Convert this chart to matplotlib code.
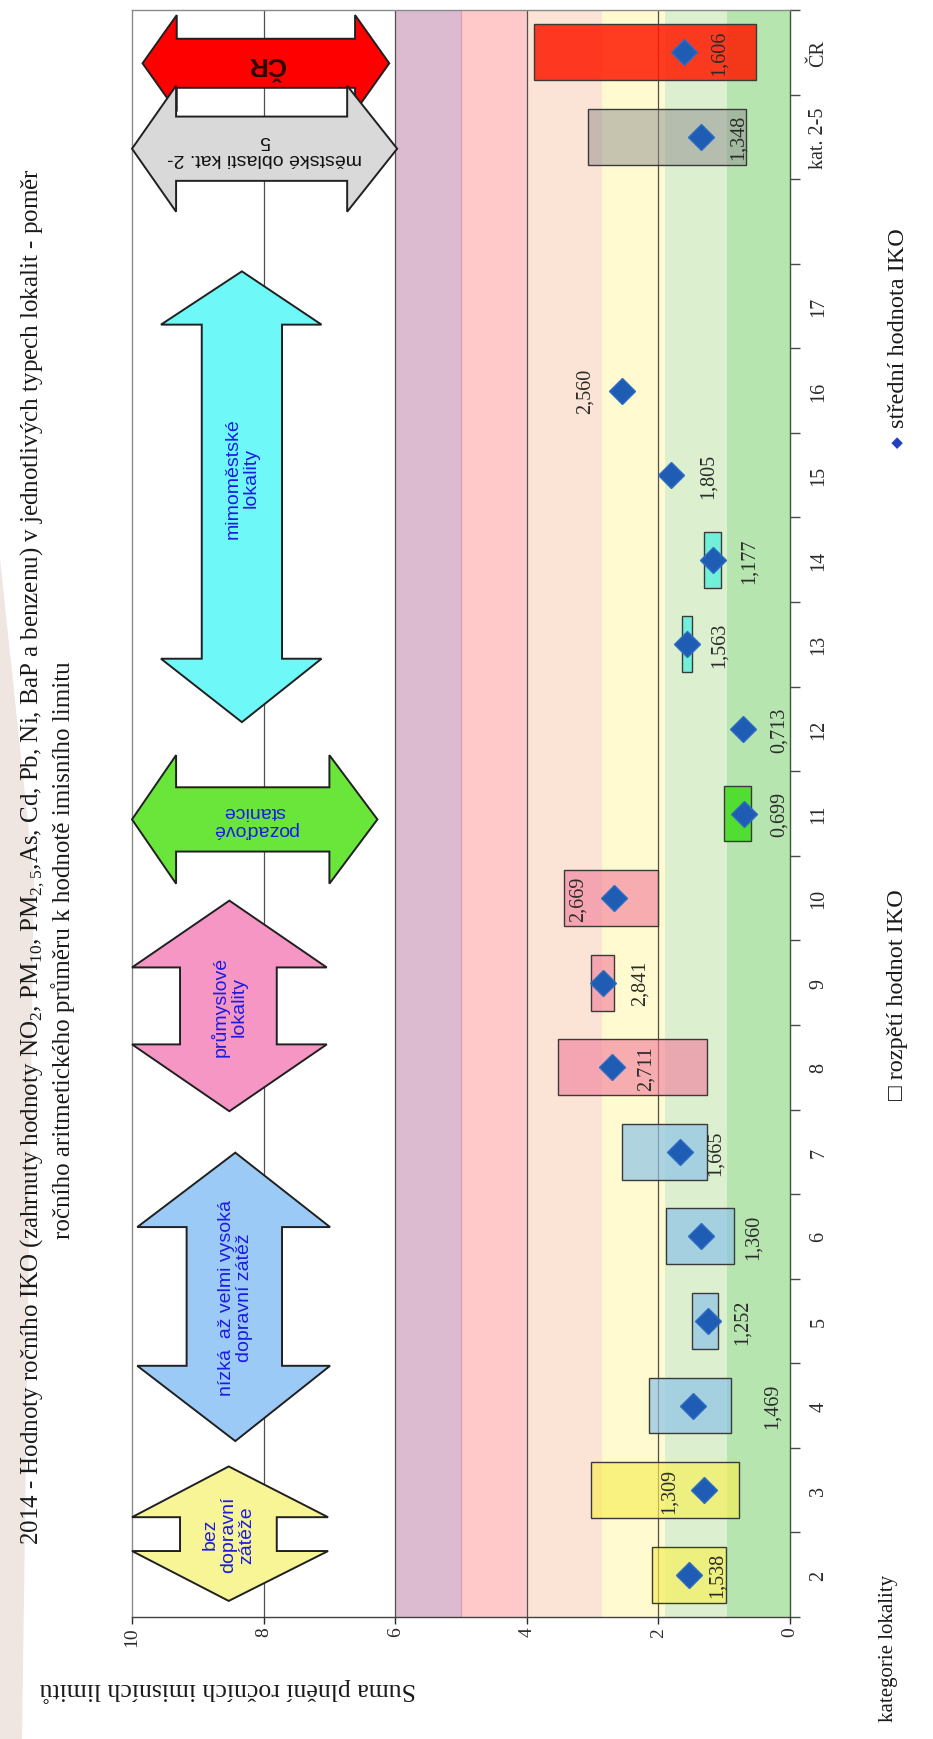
import matplotlib
matplotlib.use("Agg")
import matplotlib.pyplot as plt
from matplotlib.patches import Polygon

plt.rcParams['font.family'] = ['Liberation Serif', 'DejaVu Serif']
plt.rcParams['mathtext.fontset'] = 'custom'
plt.rcParams['mathtext.rm'] = 'Liberation Serif'

# === Data ===
categories = ["2", "3", "4", "5", "6", "7", "8", "9", "10", "11", "12", "13",
              "14", "15", "16", "17", "", "kat. 2-5", "ČR"]

range_cats = ["2", "3", "4", "5", "6", "7", "8", "9", "10", "11", "13", "14", "kat. 2-5", "ČR"]
range_low = [0.98, 0.78, 0.90, 1.10, 0.85, 1.26, 1.26, 2.68, 2.01, 0.59, 1.49, 1.05, 0.67, 0.52]
range_high = [2.09, 3.03, 2.15, 1.49, 1.88, 2.56, 3.53, 3.02, 3.43, 1.00, 1.64, 1.30, 3.07, 3.89]

mean_cats = ["2", "3", "4", "5", "6", "7", "8", "9", "10", "11", "12", "13",
             "14", "15", "16", "kat. 2-5", "ČR"]
mean_values = [1.538, 1.309, 1.469, 1.252, 1.360, 1.665, 2.711, 2.841, 2.669, 0.699,
               0.713, 1.563, 1.177, 1.805, 2.560, 1.348, 1.606]

# === Styles / layout ===
range_colors = ["#f7ef55", "#f7ef55", "#8ec3e6", "#8ec3e6", "#8ec3e6", "#8ec3e6",
                "#f27a9a", "#f27a9a", "#f27a9a", "#3fdc1c", "#4ff0dc", "#4ff0dc",
                "#8f8f8f", "#ff1a00"]
range_alpha = [0.65, 0.65, 0.7, 0.7, 0.7, 0.7, 0.6, 0.6, 0.6, 0.85, 0.75, 0.75, 0.5, 0.85]
label_x = [1.10, 1.84, 0.27, 0.72, 0.56, 1.13, 2.18, 2.28, 3.22, 0.16, 0.16, 1.07,
           0.62, 1.24, 3.12, 0.78, 1.07]

bands = [(0, 0.95, "#b6e5b0"), (0.95, 1.9, "#dcefcf"), (1.9, 2.85, "#fffad0"),
         (2.85, 4, "#fbe3d5"), (4, 5, "#ffc9c9"), (5, 6, "#dcbad0")]

W, H = 933, 1740
fig = plt.figure(figsize=(W / 100, H / 100), dpi=100)

def fx(x):
    return x / W

def fy(y):
    return 1 - y / H

# page shadow on the left edge
fig.patches.append(Polygon([(fx(0), fy(560)), (fx(34), fy(880)), (fx(22), fy(1740)),
                            (fx(0), fy(1740))], closed=True, transform=fig.transFigure,
                           facecolor="#efe5e1", edgecolor="none", zorder=0))

ax = fig.add_axes([fx(132), fy(1618), fx(790) - fx(132), fy(11) - fy(1618)])
ax.set_xlim(10, 0)
ax.set_ylim(-0.5, len(categories) - 0.5)

for lo, hi, col in bands:
    ax.axvspan(lo, hi, color=col, lw=0, zorder=0)
for v in [2, 4, 6, 8]:
    ax.axvline(v, color="#505050", lw=0.9, zorder=1)
ax.axvline(5, color="#e39aae", lw=0.9, zorder=1)

idx = {c: i for i, c in enumerate(categories)}

# range boxes
for c, lo, hi, col, al in zip(range_cats, range_low, range_high, range_colors, range_alpha):
    ax.barh(idx[c], hi - lo, left=lo, height=0.66, color=col, alpha=al,
            edgecolor="none", zorder=2)
    ax.barh(idx[c], hi - lo, left=lo, height=0.66, fill=False,
            edgecolor="#3a3a3a", lw=1.0, zorder=2)

# means
ax.plot(mean_values, [idx[c] for c in mean_cats], ls="none", marker="D",
        markersize=13.5, color="#1f5cb4", markeredgecolor="#2f6cc4", zorder=3)
for c, v, lx in zip(mean_cats, mean_values, label_x):
    ax.text(lx, idx[c], f"{v:.3f}".replace(".", ","), rotation=90, ha="center",
            va="center", fontsize=14.5, color="#2b2b2b", zorder=4)

# === Arrows ===
def v_arrow(tip, head, shaft, cats, color, text, rot, fs=14, tcol="#1c1ce0",
            weight="normal", text_dy=0.0):
    lt, lb, hb, ht = cats
    pts = [(tip, lt), (head[1], lb), (shaft[1], lb), (shaft[1], hb), (head[1], hb),
           (tip, ht), (head[0], hb), (shaft[0], hb), (shaft[0], lb), (head[0], lb)]
    ax.add_patch(Polygon(pts, closed=True, facecolor=color, edgecolor="#202020",
                         lw=1.4, zorder=5, clip_on=False))
    ax.text(tip, (lt + ht) / 2 + text_dy, text, rotation=rot, ha="center", va="center",
            fontsize=fs, color=tcol, family=["Liberation Sans", "DejaVu Sans"],
            linespacing=1.1, weight=weight, zorder=6)

def h_arrow(cy, head_h, shaft_h, tips, bases, color, text, rot, fs=14, tcol="#1c1ce0",
            weight="normal"):
    t1, t2 = tips
    b1, b2 = bases
    pts = [(t1, cy), (b1, cy + head_h), (b1, cy + shaft_h), (b2, cy + shaft_h),
           (b2, cy + head_h), (t2, cy), (b2, cy - head_h), (b2, cy - shaft_h),
           (b1, cy - shaft_h), (b1, cy - head_h)]
    ax.add_patch(Polygon(pts, closed=True, facecolor=color, edgecolor="#202020",
                         lw=1.4, zorder=5, clip_on=False))
    ax.text((t1 + t2) / 2, cy, text, rotation=rot, ha="center", va="center",
            fontsize=fs, color=tcol, family=["Liberation Sans", "DejaVu Sans"],
            linespacing=1.1, weight=weight, zorder=6)

v_arrow(8.53, (10.0, 7.02), (9.27, 7.80), (-0.31, 0.28, 0.68, 1.28), "#f8f597",
        "bez\ndopravní\nzátěže", 90)
v_arrow(8.43, (9.92, 6.99), (9.17, 7.72), (1.58, 2.47, 4.11, 4.99), "#9ccaf7",
        "nízká  až velmi vysoká\ndopravní zátěž", 90)
v_arrow(8.52, (10.0, 7.04), (9.27, 7.80), (5.48, 6.27, 7.18, 7.97), "#f596c4",
        "průmyslové\nlokality", 90)
v_arrow(8.33, (9.56, 7.12), (8.94, 7.72), (10.08, 10.83, 14.78, 15.41), "#6ef8f8",
        "mimoměstské\nlokality", 90, text_dy=0.23)
h_arrow(8.93, 0.76, 0.38, (10.0, 6.27), (9.33, 7.00), "#6ae53a",
        "pozaďové\nstanice", 180)
h_arrow(17.87, 0.57, 0.29, (9.84, 6.09), (9.32, 6.61), "#ff0000",
        "ČR", 180, fs=19, tcol="#2a0505", weight="bold")
h_arrow(16.86, 0.745, 0.38, (10.0, 5.97), (9.33, 6.73), "#d9d9d9",
        "městské oblasti kat. 2-\n5", 180, tcol="#111111")

# === Axes styling ===
ax.set_xticks([0, 2, 4, 6, 8, 10])
ax.set_xticklabels(["0", "2", "4", "6", "8", "10"], rotation=90, fontsize=14,
                   color="#2b2b2b")
ax.tick_params(axis="x", direction="out", length=5, width=1, pad=2, colors="#2b2b2b")
ax.yaxis.tick_right()
ax.set_yticks(range(len(categories)))
ax.set_yticklabels(categories, rotation=90, va="center", fontsize=14.5, color="#2b2b2b")
ax.set_yticks([i + 0.5 for i in range(-1, len(categories))], minor=True)
ax.tick_params(axis="y", which="major", length=0, pad=14)
ax.tick_params(axis="y", which="minor", direction="out", length=7, width=1,
               color="#405040")
for s in ["top", "left"]:
    ax.spines[s].set_color("#8a8a8a")
ax.spines["right"].set_color("#3d553d")
ax.spines["bottom"].set_color("#404040")
for s in ax.spines.values():
    s.set_linewidth(1.0)

# === Titles and legend ===
fig.text(fx(33), fy(857),
         r"2014 - Hodnoty ročního IKO (zahrnuty hodnoty NO$_\mathregular{2}$, "
         r"PM$_\mathregular{10}$, PM$_\mathregular{2,5}$,As, Cd, Pb, Ni, BaP a benzenu) "
         r"v jednotlivých typech lokalit - poměr",
         rotation=90, ha="center", va="center", fontsize=18, color="#1a1a1a")
fig.text(fx(63), fy(950), "ročního aritmetického průměru k hodnotě imisního limitu",
         rotation=90, ha="center", va="center", fontsize=18, color="#1a1a1a")
fig.text(fx(228), fy(1690), "Suma plnění ročních imisních limitů", rotation=180,
         ha="center", va="center", fontsize=18.5, color="#1a1a1a")
fig.text(fx(889), fy(1648), "kategorie lokality", rotation=90, ha="center",
         va="center", fontsize=15, color="#1a1a1a")
fig.text(fx(898), fy(995), "□ rozpětí hodnot IKO", rotation=90, ha="center",
         va="center", fontsize=17.5, color="#1a1a1a",
         family=["Liberation Serif", "DejaVu Sans"])
fig.text(fx(898), fy(442), "◆", rotation=90, ha="center", va="center",
         fontsize=11, color="#1f3fc0", family=["DejaVu Sans"])
fig.text(fx(898), fy(428), "střední hodnota IKO", rotation=90, ha="center",
         va="bottom", fontsize=17.5, color="#1a1a1a")

fig.savefig("out.png", dpi=100)
